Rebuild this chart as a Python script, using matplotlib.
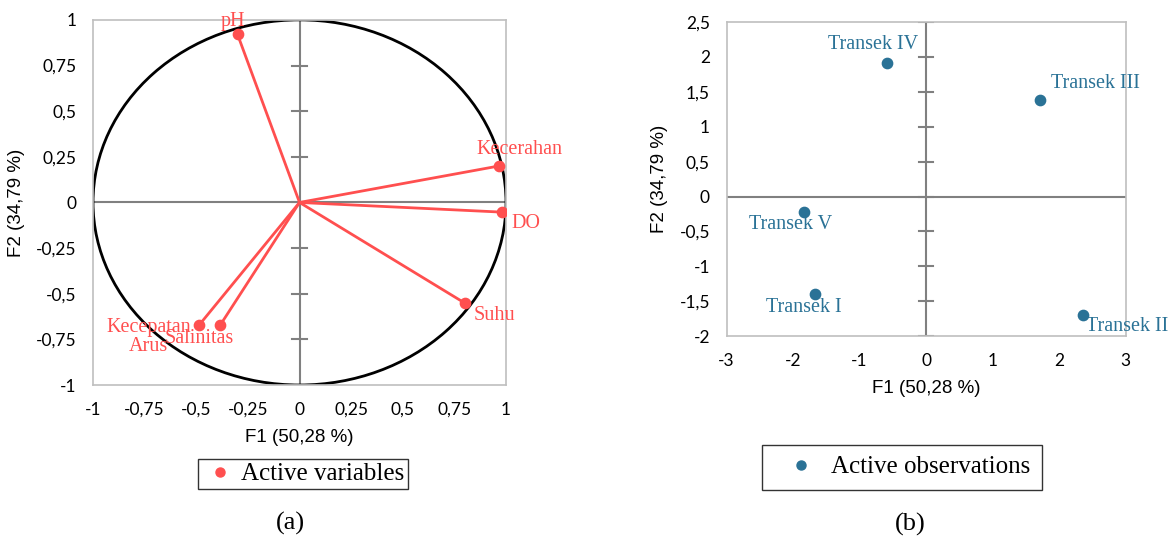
import matplotlib.pyplot as plt
from matplotlib.patches import Ellipse
from matplotlib.lines import Line2D

# Data: correlation circle (variables)
var_names = ['pH', 'Kecerahan', 'DO', 'Suhu', 'Kecepatan\nArus', 'Salinitas']
var_f1 = [-0.30, 0.967, 0.98, 0.80, -0.485, -0.383]
var_f2 = [0.92, 0.20, -0.053, -0.551, -0.670, -0.670]

# Data: observations
obs_names = ['Transek IV', 'Transek III', 'Transek V', 'Transek I', 'Transek II']
obs_f1 = [-0.59, 1.72, -1.84, -1.67, 2.36]
obs_f2 = [1.92, 1.39, -0.22, -1.39, -1.69]

left_ticks = [-1, -0.75, -0.5, -0.25, 0, 0.25, 0.5, 0.75, 1]
right_xticks = [-3, -2, -1, 0, 1, 2, 3]
right_yticks = [-2, -1.5, -1, -0.5, 0, 0.5, 1, 1.5, 2, 2.5]

red = '#FF4F4F'
blue = '#2A7296'
serif = 'Liberation Serif'
sans = 'Liberation Sans'
tickfont = 'Lato'


def fmt(v):
    return ('%g' % v).replace('.', ',')


def style_axes(ax, xt, yt, tick_half):
    for sp in ax.spines.values():
        sp.set_color('#BFBFBF')
        sp.set_linewidth(1.2)
    ax.axhline(0, color='#808080', lw=1.5, zorder=1)
    ax.axvline(0, color='#808080', lw=1.5, zorder=1)
    # tick marks on the vertical zero line
    for t in yt:
        ax.plot([-tick_half, tick_half], [t, t], color='#808080', lw=1.5, zorder=1)
    ax.set_xticks(xt)
    ax.set_yticks(yt)
    ax.set_xticklabels([fmt(v) for v in xt], fontfamily=tickfont, fontsize=12.5)
    ax.set_yticklabels([fmt(v) for v in yt], fontfamily=tickfont, fontsize=12.5)
    ax.tick_params(length=0, pad=12)


fig = plt.figure(figsize=(11.7, 5.37), dpi=100)

# (a) correlation circle
ax1 = fig.add_axes([0.0795, 0.283, 0.353, 0.680])
ax1.set_xlim(-1, 1)
ax1.set_ylim(-1, 1)
style_axes(ax1, left_ticks, left_ticks, 0.035)
ax1.add_patch(Ellipse((0, 0), 2, 2, fill=False, edgecolor='black', lw=2, zorder=2))
for x, y in zip(var_f1, var_f2):
    ax1.plot([0, x], [0, y], color=red, lw=2, zorder=3)
ax1.scatter(var_f1, var_f2, s=55, color=red, zorder=4)

var_offsets = [(-5, 3, 'center', 'bottom'), (-23, 7, 'left', 'bottom'),
               (10, -2, 'left', 'top'), (9, -3, 'left', 'top'),
               (-51, 7, 'center', 'top'), (-21, -4, 'center', 'top')]
for name, x, y, (dx, dy, ha, va) in zip(var_names, var_f1, var_f2, var_offsets):
    ax1.annotate(name, (x, y), xytext=(dx, dy), textcoords='offset pixels',
                 ha=ha, va=va, color=red, fontfamily=serif, fontsize=14.5,
                 linespacing=1.05, zorder=5, annotation_clip=False)

ax1.set_xlabel('F1 (50,28 %)', fontfamily=sans, fontsize=13.5, labelpad=8)
ax1.set_ylabel('F2 (34,79 %)', fontfamily=sans, fontsize=13.5, labelpad=8)

# (b) observations
ax2 = fig.add_axes([0.621, 0.374, 0.341, 0.585])
ax2.set_xlim(-3, 3)
ax2.set_ylim(-2, 2.5)
style_axes(ax2, right_xticks, right_yticks, 0.1)
ax2.scatter(obs_f1, obs_f2, s=55, color=blue, zorder=4)

obs_offsets = [(-14, 9, 'center', 'bottom'), (11, 7, 'left', 'bottom'),
               (-13, -3, 'center', 'top'), (-11, -4, 'center', 'top'),
               (3, -2, 'left', 'top')]
for name, x, y, (dx, dy, ha, va) in zip(obs_names, obs_f1, obs_f2, obs_offsets):
    ax2.annotate(name, (x, y), xytext=(dx, dy), textcoords='offset pixels',
                 ha=ha, va=va, color=blue, fontfamily=serif, fontsize=14.5,
                 zorder=5, annotation_clip=False)

ax2.set_xlabel('F1 (50,28 %)', fontfamily=sans, fontsize=13.5, labelpad=8)
ax2.set_ylabel('F2 (34,79 %)', fontfamily=sans, fontsize=13.5, labelpad=8)

# legends
h1 = Line2D([], [], marker='o', ls='none', color=red, markersize=6.5)
leg1 = fig.legend([h1], ['Active variables'], loc='center', bbox_to_anchor=(0.259, 0.117),
                  prop={'family': serif, 'size': 18}, fancybox=False, edgecolor='black',
                  handletextpad=0.1, borderpad=0.15, handlelength=1.5, borderaxespad=0)
leg1.get_frame().set_linewidth(1.0)
h2 = Line2D([], [], marker='o', ls='none', color=blue, markersize=6.5)
leg2 = fig.legend([h2], ['Active observations'], loc='center', bbox_to_anchor=(0.771, 0.130),
                  prop={'family': serif, 'size': 18}, fancybox=False, edgecolor='black',
                  handletextpad=0.1, borderpad=0.45, handlelength=2.2, borderaxespad=0)
leg2.get_frame().set_linewidth(1.0)

fig.text(0.248, 0.026, '(a)', ha='center', va='center', fontfamily=serif, fontsize=19)
fig.text(0.778, 0.024, '(b)', ha='center', va='center', fontfamily=serif, fontsize=19)

fig.savefig('out.png', dpi=100)
